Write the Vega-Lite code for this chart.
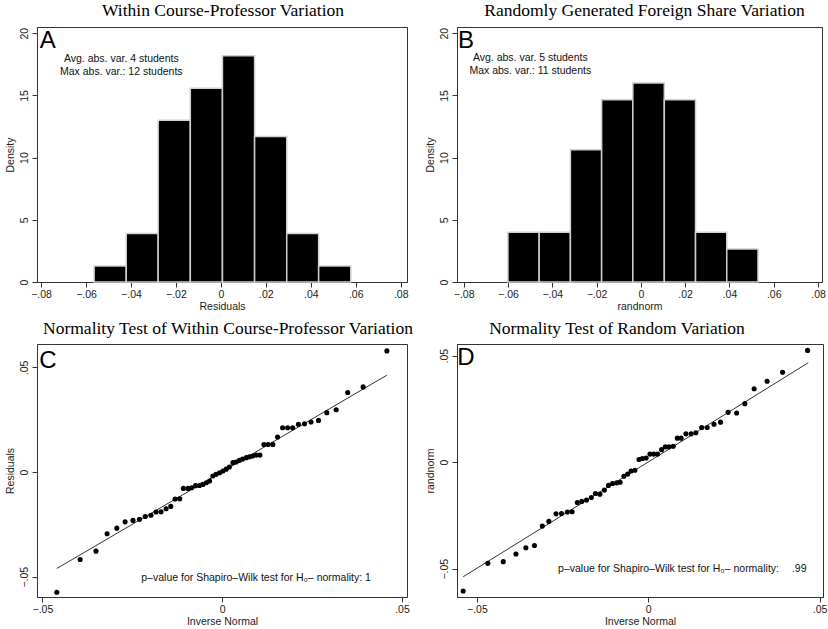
{
  "$schema": "https://vega.github.io/schema/vega-lite/v6.json",
  "background": "white",
  "padding": {"left": 4, "top": 1, "right": 0, "bottom": 2},
  "datasets": {
    "histA": [
      {"x0": -0.0564, "x1": -0.0421, "density": 1.29},
      {"x0": -0.0421, "x1": -0.0279, "density": 3.89},
      {"x0": -0.0279, "x1": -0.0136, "density": 13.0},
      {"x0": -0.0136, "x1": 0.0007, "density": 15.58},
      {"x0": 0.0007, "x1": 0.0150, "density": 18.18},
      {"x0": 0.0150, "x1": 0.0293, "density": 11.69},
      {"x0": 0.0293, "x1": 0.0435, "density": 3.89},
      {"x0": 0.0435, "x1": 0.0578, "density": 1.29}
    ],
    "histB": [
      {"x0": -0.0600, "x1": -0.0459, "density": 3.99},
      {"x0": -0.0459, "x1": -0.0318, "density": 3.99},
      {"x0": -0.0318, "x1": -0.0177, "density": 10.64},
      {"x0": -0.0177, "x1": -0.0036, "density": 14.66},
      {"x0": -0.0036, "x1": 0.0106, "density": 16.0},
      {"x0": 0.0106, "x1": 0.0247, "density": 14.66},
      {"x0": 0.0247, "x1": 0.0388, "density": 3.99},
      {"x0": 0.0388, "x1": 0.0529, "density": 2.65}
    ],
    "qqC": [
      {"inv": -0.046, "val": -0.0574}, {"inv": -0.0395, "val": -0.0418}, {"inv": -0.0351, "val": -0.0378},
      {"inv": -0.032, "val": -0.0295}, {"inv": -0.0293, "val": -0.0268}, {"inv": -0.027, "val": -0.0238},
      {"inv": -0.0248, "val": -0.0231}, {"inv": -0.023, "val": -0.0226}, {"inv": -0.0214, "val": -0.0212},
      {"inv": -0.0198, "val": -0.0206}, {"inv": -0.0184, "val": -0.0191}, {"inv": -0.017, "val": -0.019},
      {"inv": -0.0156, "val": -0.0175}, {"inv": -0.0143, "val": -0.0164}, {"inv": -0.0131, "val": -0.0129},
      {"inv": -0.0118, "val": -0.0128}, {"inv": -0.0108, "val": -0.0078}, {"inv": -0.0095, "val": -0.0078},
      {"inv": -0.0085, "val": -0.0075}, {"inv": -0.0074, "val": -0.0065}, {"inv": -0.0063, "val": -0.0064},
      {"inv": -0.0054, "val": -0.0059}, {"inv": -0.0044, "val": -0.0051}, {"inv": -0.0035, "val": -0.0043},
      {"inv": -0.0026, "val": -0.0019}, {"inv": -0.0017, "val": -0.0011}, {"inv": -0.0007, "val": -0.0003},
      {"inv": 0.0002, "val": 0.0005}, {"inv": 0.0011, "val": 0.0014}, {"inv": 0.002, "val": 0.0024},
      {"inv": 0.003, "val": 0.0045}, {"inv": 0.0039, "val": 0.0048}, {"inv": 0.0048, "val": 0.0056},
      {"inv": 0.0057, "val": 0.0062}, {"inv": 0.0067, "val": 0.0069}, {"inv": 0.0076, "val": 0.0073},
      {"inv": 0.0085, "val": 0.0077}, {"inv": 0.0095, "val": 0.0081}, {"inv": 0.0105, "val": 0.0081},
      {"inv": 0.0116, "val": 0.0132}, {"inv": 0.0128, "val": 0.0132}, {"inv": 0.0141, "val": 0.0132},
      {"inv": 0.0154, "val": 0.0167}, {"inv": 0.0168, "val": 0.0212}, {"inv": 0.0182, "val": 0.0212},
      {"inv": 0.0196, "val": 0.0212}, {"inv": 0.0212, "val": 0.0228}, {"inv": 0.0229, "val": 0.0231},
      {"inv": 0.0247, "val": 0.0239}, {"inv": 0.0268, "val": 0.0247}, {"inv": 0.0291, "val": 0.0284},
      {"inv": 0.0317, "val": 0.0298}, {"inv": 0.0349, "val": 0.038}, {"inv": 0.0392, "val": 0.0407},
      {"inv": 0.0458, "val": 0.0579}
    ],
    "qqD": [
      {"inv": -0.054, "val": -0.0605}, {"inv": -0.0468, "val": -0.0475}, {"inv": -0.0423, "val": -0.0467},
      {"inv": -0.0386, "val": -0.0431}, {"inv": -0.0357, "val": -0.0402}, {"inv": -0.0332, "val": -0.0391},
      {"inv": -0.0309, "val": -0.03}, {"inv": -0.029, "val": -0.0278}, {"inv": -0.0269, "val": -0.0242},
      {"inv": -0.0253, "val": -0.0241}, {"inv": -0.0236, "val": -0.0234}, {"inv": -0.0222, "val": -0.0233},
      {"inv": -0.0207, "val": -0.0189}, {"inv": -0.0194, "val": -0.0184}, {"inv": -0.018, "val": -0.0178},
      {"inv": -0.0166, "val": -0.0166}, {"inv": -0.0154, "val": -0.0147}, {"inv": -0.0141, "val": -0.015},
      {"inv": -0.0128, "val": -0.0131}, {"inv": -0.0116, "val": -0.0109}, {"inv": -0.0104, "val": -0.01},
      {"inv": -0.0092, "val": -0.0097}, {"inv": -0.0082, "val": -0.0094}, {"inv": -0.0071, "val": -0.0066},
      {"inv": -0.006, "val": -0.0056}, {"inv": -0.005, "val": -0.0041}, {"inv": -0.0039, "val": -0.0038},
      {"inv": -0.0027, "val": 0.0013}, {"inv": -0.0017, "val": 0.0017}, {"inv": -0.0006, "val": 0.002},
      {"inv": 0.0005, "val": 0.0038}, {"inv": 0.0016, "val": 0.0038}, {"inv": 0.0027, "val": 0.0038},
      {"inv": 0.0039, "val": 0.0059}, {"inv": 0.005, "val": 0.0072}, {"inv": 0.0061, "val": 0.0072},
      {"inv": 0.0073, "val": 0.0075}, {"inv": 0.0085, "val": 0.0113}, {"inv": 0.0096, "val": 0.0113},
      {"inv": 0.011, "val": 0.0133}, {"inv": 0.0125, "val": 0.0133}, {"inv": 0.0139, "val": 0.0138},
      {"inv": 0.0156, "val": 0.0163}, {"inv": 0.0172, "val": 0.0163}, {"inv": 0.0192, "val": 0.0178},
      {"inv": 0.0211, "val": 0.0188}, {"inv": 0.0233, "val": 0.0234}, {"inv": 0.0258, "val": 0.0231},
      {"inv": 0.0282, "val": 0.0275}, {"inv": 0.0309, "val": 0.0345}, {"inv": 0.0347, "val": 0.038},
      {"inv": 0.0392, "val": 0.0422}, {"inv": 0.0465, "val": 0.0525}
    ],
    "lineC": [{"inv": -0.046, "val": -0.0461}, {"inv": 0.0458, "val": 0.0463}],
    "lineD": [{"inv": -0.054, "val": -0.0538}, {"inv": 0.0467, "val": 0.0467}],
    "notes": [
      {"panel": "A", "kind": "letter", "x": -0.0806, "y": 18.8, "label": "A"},
      {"panel": "A", "kind": "note", "x": -0.0443, "y": 17.9, "label": "Avg. abs. var. 4 students"},
      {"panel": "A", "kind": "note", "x": -0.0443, "y": 16.9, "label": "Max abs. var.: 12 students"},
      {"panel": "B", "kind": "letter", "x": -0.0826, "y": 18.8, "label": "B"},
      {"panel": "B", "kind": "note", "x": -0.0499, "y": 17.97, "label": "Avg. abs. var. 5 students"},
      {"panel": "B", "kind": "note", "x": -0.0499, "y": 16.95, "label": "Max abs. var.: 11 students"},
      {"panel": "C", "kind": "letter", "x": -0.0509, "y": 0.0499, "label": "C"},
      {"panel": "C", "kind": "pleft", "x": -0.0225, "y": -0.0506, "label": "p–value for Shapiro–Wilk test for H₀– normality: 1"},
      {"panel": "D", "kind": "letter", "x": -0.0557, "y": 0.0455, "label": "D"},
      {"panel": "D", "kind": "pleft", "x": -0.0263, "y": -0.0503, "label": "p–value for Shapiro–Wilk test for H₀– normality:"},
      {"panel": "D", "kind": "pright", "x": 0.0462, "y": -0.0503, "label": ".99"}
    ]
  },
  "config": {
    "font": "Liberation Sans",
    "view": {"stroke": "#333", "strokeWidth": 1},
    "axis": {
      "grid": false, "domainColor": "#333", "tickColor": "#333", "tickSize": 5,
      "labelFont": "Liberation Sans", "labelFontSize": 10.5, "labelColor": "#222", "labelFlush": false, "labelOverlap": false,
      "titleFont": "Liberation Sans", "titleFontSize": 10.5, "titleFontWeight": "normal", "titleColor": "#222",
      "labelExpr": "datum.value == 0 ? '0' : replace(format(datum.value, '.2f'), '0.', '.')"
    },
    "axisY": {"labelAngle": -90, "labelPadding": 3, "titlePadding": 4},
    "axisX": {"labelPadding": 2, "titlePadding": 2},
    "title": {"font": "Liberation Serif", "fontSize": 17.5, "fontWeight": "normal", "color": "#000", "baseline": "alphabetic"},
    "text": {"font": "Liberation Sans", "color": "#111"}
  },
  "columns": 2,
  "bounds": "flush",
  "spacing": {"row": 62, "column": 50},
  "concat": [
    {
      "width": 370, "height": 255,
      "title": {"text": "Within Course-Professor Variation", "dx": 1, "offset": 7.7},
      "layer": [
        {
          "data": {"name": "histA"},
          "mark": {"type": "bar", "fill": "#000", "stroke": "#d0d0d0", "strokeWidth": 1.5},
          "encoding": {
            "x": {"field": "x0", "type": "quantitative", "title": "Residuals",
                  "scale": {"domain": [-0.0818, 0.0828], "nice": false, "zero": false},
                  "axis": {"values": [-0.08, -0.06, -0.04, -0.02, 0, 0.02, 0.04, 0.06, 0.08]}},
            "x2": {"field": "x1"},
            "y": {"field": "density", "type": "quantitative", "title": "Density",
                  "scale": {"domain": [0, 20.5], "nice": false},
                  "axis": {"values": [0, 5, 10, 15, 20], "labelExpr": "datum.label"}},
            "y2": {"datum": 0}
          }
        },
        {
          "data": {"name": "notes"},
          "transform": [{"filter": "datum.panel == 'A' && datum.kind == 'letter'"}],
          "mark": {"type": "text", "fontSize": 24, "align": "left", "baseline": "alphabetic", "color": "#000"},
          "encoding": {
            "x": {"field": "x", "type": "quantitative", "title": "Residuals"},
            "y": {"field": "y", "type": "quantitative", "title": "Density"},
            "text": {"field": "label"}
          }
        },
        {
          "data": {"name": "notes"},
          "transform": [{"filter": "datum.panel == 'A' && datum.kind == 'note'"}],
          "mark": {"type": "text", "fontSize": 10.5, "align": "center", "baseline": "middle"},
          "encoding": {
            "x": {"field": "x", "type": "quantitative", "title": "Residuals"},
            "y": {"field": "y", "type": "quantitative", "title": "Density"},
            "text": {"field": "label"}
          }
        }
      ]
    },
    {
      "width": 365, "height": 255,
      "title": {"text": "Randomly Generated Foreign Share Variation", "dx": 5, "offset": 7.7},
      "layer": [
        {
          "data": {"name": "histB"},
          "mark": {"type": "bar", "fill": "#000", "stroke": "#d0d0d0", "strokeWidth": 1.5},
          "encoding": {
            "x": {"field": "x0", "type": "quantitative", "title": "randnorm",
                  "scale": {"domain": [-0.0830, 0.0818], "nice": false, "zero": false},
                  "axis": {"values": [-0.08, -0.06, -0.04, -0.02, 0, 0.02, 0.04, 0.06, 0.08]}},
            "x2": {"field": "x1"},
            "y": {"field": "density", "type": "quantitative", "title": "Density",
                  "scale": {"domain": [0, 20.5], "nice": false},
                  "axis": {"values": [0, 5, 10, 15, 20], "labelExpr": "datum.label"}},
            "y2": {"datum": 0}
          }
        },
        {
          "data": {"name": "notes"},
          "transform": [{"filter": "datum.panel == 'B' && datum.kind == 'letter'"}],
          "mark": {"type": "text", "fontSize": 24, "align": "left", "baseline": "alphabetic", "color": "#000"},
          "encoding": {
            "x": {"field": "x", "type": "quantitative", "title": "randnorm"},
            "y": {"field": "y", "type": "quantitative", "title": "Density"},
            "text": {"field": "label"}
          }
        },
        {
          "data": {"name": "notes"},
          "transform": [{"filter": "datum.panel == 'B' && datum.kind == 'note'"}],
          "mark": {"type": "text", "fontSize": 10.5, "align": "center", "baseline": "middle"},
          "encoding": {
            "x": {"field": "x", "type": "quantitative", "title": "randnorm"},
            "y": {"field": "y", "type": "quantitative", "title": "Density"},
            "text": {"field": "label"}
          }
        }
      ]
    },
    {
      "width": 370, "height": 253,
      "title": {"text": "Normality Test of Within Course-Professor Variation", "dx": 6, "offset": 6.6},
      "layer": [
        {
          "data": {"name": "lineC"},
          "mark": {"type": "line", "color": "#333", "strokeWidth": 1},
          "encoding": {
            "x": {"field": "inv", "type": "quantitative", "title": "Inverse Normal",
                  "scale": {"domain": [-0.0515, 0.0514], "nice": false, "zero": false},
                  "axis": {"values": [-0.05, 0, 0.05]}},
            "y": {"field": "val", "type": "quantitative", "title": "Residuals",
                  "scale": {"domain": [-0.0597, 0.0612], "nice": false, "zero": false},
                  "axis": {"values": [-0.05, 0, 0.05]}}
          }
        },
        {
          "data": {"name": "qqC"},
          "mark": {"type": "circle", "color": "#000", "opacity": 1, "size": 26},
          "encoding": {
            "x": {"field": "inv", "type": "quantitative", "title": "Inverse Normal"},
            "y": {"field": "val", "type": "quantitative", "title": "Residuals"}
          }
        },
        {
          "data": {"name": "notes"},
          "transform": [{"filter": "datum.panel == 'C' && datum.kind == 'letter'"}],
          "mark": {"type": "text", "fontSize": 24, "align": "left", "baseline": "alphabetic", "color": "#000"},
          "encoding": {
            "x": {"field": "x", "type": "quantitative", "title": "Inverse Normal"},
            "y": {"field": "y", "type": "quantitative", "title": "Residuals"},
            "text": {"field": "label"}
          }
        },
        {
          "data": {"name": "notes"},
          "transform": [{"filter": "datum.panel == 'C' && datum.kind == 'pleft'"}],
          "mark": {"type": "text", "fontSize": 10.5, "align": "left", "baseline": "middle"},
          "encoding": {
            "x": {"field": "x", "type": "quantitative", "title": "Inverse Normal"},
            "y": {"field": "y", "type": "quantitative", "title": "Residuals"},
            "text": {"field": "label"}
          }
        }
      ]
    },
    {
      "width": 366, "height": 253,
      "title": {"text": "Normality Test of Random Variation", "dx": -23, "offset": 6.6},
      "layer": [
        {
          "data": {"name": "lineD"},
          "mark": {"type": "line", "color": "#333", "strokeWidth": 1},
          "encoding": {
            "x": {"field": "inv", "type": "quantitative", "title": "Inverse Normal",
                  "scale": {"domain": [-0.0558, 0.0510], "nice": false, "zero": false},
                  "axis": {"values": [-0.05, 0, 0.05]}},
            "y": {"field": "val", "type": "quantitative", "title": "randnorm",
                  "scale": {"domain": [-0.0633, 0.0555], "nice": false, "zero": false},
                  "axis": {"values": [-0.05, 0, 0.05]}}
          }
        },
        {
          "data": {"name": "qqD"},
          "mark": {"type": "circle", "color": "#000", "opacity": 1, "size": 26},
          "encoding": {
            "x": {"field": "inv", "type": "quantitative", "title": "Inverse Normal"},
            "y": {"field": "val", "type": "quantitative", "title": "randnorm"}
          }
        },
        {
          "data": {"name": "notes"},
          "transform": [{"filter": "datum.panel == 'D' && datum.kind == 'letter'"}],
          "mark": {"type": "text", "fontSize": 24, "align": "left", "baseline": "alphabetic", "color": "#000"},
          "encoding": {
            "x": {"field": "x", "type": "quantitative", "title": "Inverse Normal"},
            "y": {"field": "y", "type": "quantitative", "title": "randnorm"},
            "text": {"field": "label"}
          }
        },
        {
          "data": {"name": "notes"},
          "transform": [{"filter": "datum.panel == 'D' && datum.kind == 'pleft'"}],
          "mark": {"type": "text", "fontSize": 10.5, "align": "left", "baseline": "middle"},
          "encoding": {
            "x": {"field": "x", "type": "quantitative", "title": "Inverse Normal"},
            "y": {"field": "y", "type": "quantitative", "title": "randnorm"},
            "text": {"field": "label"}
          }
        },
        {
          "data": {"name": "notes"},
          "transform": [{"filter": "datum.panel == 'D' && datum.kind == 'pright'"}],
          "mark": {"type": "text", "fontSize": 10.5, "align": "right", "baseline": "middle"},
          "encoding": {
            "x": {"field": "x", "type": "quantitative", "title": "Inverse Normal"},
            "y": {"field": "y", "type": "quantitative", "title": "randnorm"},
            "text": {"field": "label"}
          }
        }
      ]
    }
  ]
}
